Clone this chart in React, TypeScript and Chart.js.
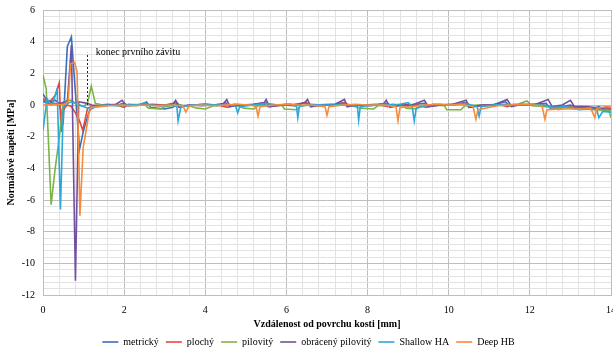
import { useEffect, useRef } from 'react';
import Chart from 'chart.js/auto';

const seriesNames = ['metrický', 'plochý', 'pilovitý', 'obrácený pilovitý', 'Shallow HA', 'Deep HB'];
const seriesColors = ['#3A6FBA', '#E5473D', '#7BB446', '#7350A0', '#2AA9D9', '#F58B3B'];

const metricky: [number, number][] = [
  [0, 0.25], [0.1, 0.1], [0.2, 0.15], [0.3, 0.1], [0.4, 0.05], [0.5, -1.0], [0.6, 3.7], [0.7, 4.3], [0.9, -2.8], [1.0, -1.6], [1.15, -0.3],
  [1.3, -0.1], [1.5, -0.05], [1.7, 0.0], [1.9, 0.05], [2.0, 0.1], [2.1, -0.05], [2.3, 0.0], [2.5, 0.1], [2.55, 0.2], [2.65, -0.15], [2.8, -0.2], [3.0, -0.25], [3.2, -0.15], [3.3, 0.05], [3.45, -0.05], [3.7, 0.0], [4.0, 0.05], [4.3, -0.05], [4.5, 0.15], [4.6, -0.1], [4.8, 0.0], [5.1, 0.0], [5.4, 0.1], [5.55, -0.1], [5.8, 0.0], [6.0, 0.05], [6.3, 0.0], [6.45, 0.15], [6.6, -0.05], [6.9, 0.0], [7.2, 0.05], [7.4, 0.15], [7.5, -0.1], [7.7, 0.0], [8.0, -0.05], [8.3, 0.05], [8.5, 0.1], [8.6, -0.1], [8.9, 0.0], [9.2, 0.05], [9.4, 0.1], [9.5, -0.1], [9.8, 0.0], [10.1, 0.05], [10.4, 0.15], [10.5, -0.15], [10.8, -0.05], [11.1, 0.0], [11.4, 0.2], [11.5, -0.05], [11.8, 0.0], [12.1, 0.05], [12.4, 0.1], [12.5, -0.2], [12.8, -0.1], [13.0, 0.0], [13.2, -0.2], [13.5, -0.25], [13.7, -0.1], [13.9, -0.35], [14, -0.3],
];

const plochy: [number, number][] = [
  [0, 0.4], [0.1, 0.2], [0.2, 0.3], [0.3, 0.6], [0.4, 1.4], [0.45, -1.7], [0.5, -0.3], [0.6, 0.0], [0.7, -0.1], [0.8, -0.5], [0.9, -1.0], [0.98, -1.6], [1.1, -0.2],
  [1.2, -0.1], [1.4, 0.0], [1.6, 0.05], [1.8, 0.0], [2.0, -0.15], [2.1, 0.05], [2.4, 0.0], [2.7, 0.05], [3.0, 0.0], [3.3, 0.15], [3.4, -0.1], [3.7, 0.0], [4.0, 0.05], [4.3, 0.0], [4.55, -0.15], [4.7, 0.05], [5.0, 0.0], [5.3, 0.05], [5.5, 0.15], [5.6, -0.1], [5.9, 0.0], [6.2, 0.05], [6.5, 0.15], [6.6, -0.1], [6.9, 0.0], [7.2, 0.0], [7.45, 0.15], [7.55, -0.05], [7.9, 0.0], [8.2, 0.05], [8.5, -0.1], [8.6, 0.05], [8.9, 0.0], [9.2, 0.0], [9.45, -0.15], [9.6, 0.05], [9.9, 0.0], [10.2, 0.05], [10.45, 0.15], [10.55, -0.1], [10.9, 0.0], [11.2, 0.05], [11.45, -0.1], [11.6, 0.05], [11.9, 0.0], [12.2, 0.05], [12.5, -0.1], [12.7, -0.3], [12.9, -0.1], [13.2, -0.15], [13.5, -0.2], [13.8, -0.3], [14, -0.2],
];

const pilovity: [number, number][] = [
  [0, 1.9], [0.08, 1.0], [0.2, -6.3], [0.3, -4.0], [0.4, -2.1], [0.5, 0.2], [0.6, 0.3], [0.7, 0.3], [0.8, 0.1], [0.9, 0.0], [1.0, -0.1], [1.1, 0.15], [1.19, 1.2], [1.29, 0.1],
  [1.4, 0.05], [1.5, -0.05], [1.7, 0.0], [1.9, -0.05], [2.1, 0.0], [2.3, -0.05], [2.5, 0.05], [2.6, -0.2], [2.9, -0.25], [3.0, -0.1], [3.3, 0.0], [3.6, -0.05], [3.8, -0.2], [4.0, -0.25], [4.2, -0.05], [4.5, 0.0], [4.8, -0.05], [4.95, -0.2], [5.2, -0.25], [5.3, -0.05], [5.6, 0.0], [5.9, -0.05], [5.95, -0.25], [6.25, -0.3], [6.35, -0.05], [6.7, 0.0], [7.0, 0.05], [7.3, 0.0], [7.6, -0.05], [7.85, -0.2], [8.15, -0.25], [8.25, -0.05], [8.6, 0.0], [8.9, -0.05], [8.95, -0.2], [9.2, -0.25], [9.3, -0.05], [9.6, 0.0], [9.9, -0.05], [9.95, -0.3], [10.3, -0.3], [10.4, -0.05], [10.7, 0.0], [11.0, -0.05], [11.3, 0.0], [11.6, -0.05], [11.93, 0.25], [12.05, -0.05], [12.4, -0.1], [12.7, -0.2], [13.0, -0.15], [13.3, -0.25], [13.6, -0.3], [13.95, -0.35], [14, -0.8],
];

const obracenyPilovity: [number, number][] = [
  [0, 0.7], [0.1, 0.25], [0.2, 0.2], [0.3, 0.3], [0.4, 0.1], [0.5, 0.15], [0.6, 0.2], [0.7, 3.8], [0.8, -11.1], [0.88, 0.2], [1.0, 0.15], [1.1, 0.1],
  [1.2, 0.0], [1.4, -0.05], [1.6, 0.0], [1.8, 0.05], [1.95, 0.3], [2.05, -0.05], [2.3, 0.0], [2.6, 0.0], [2.9, -0.05], [3.2, 0.05], [3.27, 0.3], [3.35, -0.15], [3.6, 0.0], [3.9, -0.05], [4.2, 0.0], [4.45, 0.1], [4.53, 0.35], [4.6, -0.1], [4.9, 0.0], [5.2, 0.05], [5.45, 0.15], [5.5, 0.35], [5.58, -0.1], [5.9, 0.0], [6.2, -0.05], [6.45, 0.15], [6.52, 0.35], [6.6, -0.1], [6.9, 0.0], [7.2, 0.05], [7.43, 0.35], [7.5, -0.1], [7.8, 0.0], [8.1, -0.05], [8.4, 0.1], [8.46, 0.3], [8.55, -0.15], [8.8, 0.0], [9.1, 0.0], [9.4, 0.3], [9.5, -0.1], [9.8, 0.0], [10.1, 0.05], [10.43, 0.3], [10.5, -0.15], [10.8, 0.0], [11.1, 0.0], [11.44, 0.35], [11.55, -0.1], [11.8, 0.05], [12.1, 0.0], [12.45, 0.35], [12.55, -0.1], [12.8, 0.0], [13.0, 0.3], [13.1, -0.1], [13.4, -0.1], [13.7, -0.2], [14, -0.15],
];

const shallowHA: [number, number][] = [
  [0, -1.6], [0.1, 0.4], [0.2, 0.0], [0.25, 0.2], [0.35, 1.0], [0.43, -6.6], [0.5, -0.2], [0.6, 0.1], [0.7, 0.2], [0.8, 0.1], [0.9, 0.0], [1.0, -0.1],
  [1.1, -0.2], [1.3, -0.1], [1.5, 0.0], [1.8, -0.05], [2.1, 0.0], [2.4, 0.05], [2.5, 0.15], [2.6, 0.0], [2.9, -0.05], [3.2, 0.0], [3.3, -0.1], [3.33, -1.0], [3.4, -0.1], [3.7, 0.0], [4.0, 0.05], [4.3, 0.0], [4.6, 0.05], [4.75, -0.1], [4.8, -0.5], [4.85, -0.1], [5.2, 0.0], [5.5, 0.1], [5.8, 0.0], [6.1, 0.05], [6.25, -0.1], [6.28, -0.8], [6.32, -0.1], [6.6, 0.05], [6.9, 0.0], [7.2, 0.0], [7.5, 0.05], [7.75, -0.1], [7.78, -0.95], [7.82, -0.1], [8.1, 0.0], [8.4, 0.05], [8.7, 0.0], [9.0, 0.15], [9.1, -0.1], [9.15, -1.0], [9.2, -0.2], [9.5, 0.0], [9.8, 0.05], [10.1, 0.0], [10.4, 0.1], [10.7, -0.1], [10.75, -0.7], [10.8, -0.1], [11.1, 0.0], [11.4, 0.05], [11.7, 0.0], [12.0, 0.05], [12.3, 0.0], [12.6, -0.15], [12.9, -0.1], [13.2, -0.3], [13.5, -0.25], [13.65, -0.3], [13.7, -0.8], [13.8, -0.4], [14, -0.45],
];

const deepHB: [number, number][] = [
  [0, 0.0], [0.3, 0.05], [0.5, 0.0], [0.62, 0.2], [0.68, 2.6], [0.78, 2.7], [0.84, 2.1], [0.91, -7.0], [0.99, -2.7], [1.14, -0.45],
  [1.2, -0.15], [1.4, -0.1], [1.6, -0.05], [1.9, 0.0], [2.2, -0.05], [2.5, 0.0], [2.8, -0.05], [3.1, 0.0], [3.45, -0.05], [3.52, -0.45], [3.6, -0.05], [3.9, 0.0], [4.2, -0.05], [4.5, 0.0], [4.8, 0.05], [5.1, 0.0], [5.25, -0.1], [5.3, -0.7], [5.35, -0.1], [5.7, 0.0], [6.0, 0.05], [6.3, 0.0], [6.6, 0.0], [6.95, -0.1], [7.0, -0.65], [7.05, -0.1], [7.4, 0.0], [7.7, 0.05], [8.0, 0.0], [8.4, 0.0], [8.7, -0.1], [8.75, -1.0], [8.8, -0.15], [9.1, -0.1], [9.4, 0.0], [9.7, 0.05], [10.0, 0.0], [10.3, 0.05], [10.6, -0.1], [10.67, -0.9], [10.72, -0.3], [10.9, -0.2], [11.2, -0.05], [11.5, 0.0], [11.8, 0.05], [12.1, 0.0], [12.3, -0.05], [12.37, -0.9], [12.42, -0.3], [12.8, -0.25], [13.2, -0.25], [13.5, -0.2], [13.6, -0.8], [13.65, -0.2], [13.9, -0.1], [14, -0.15],
];

const seriesData = [metricky, plochy, pilovity, obracenyPilovity, shallowHA, deepHB];

const xMin = 0;
const xMax = 14;
const yMin = -12;
const yMax = 6;
const minorStep = 0.4;
const majorStep = 2;

const xTitle = 'Vzdálenost od povrchu kosti [mm]';
const yTitle = 'Normálové napětí [MPa]';
const markerX = 1.08;
const markerTop = 3.3;
const markerLabel = 'konec prvního závitu';
const markerLabelX = 1.3;
const markerLabelY = 3.35;

const FONT = '"Liberation Serif", "Times New Roman", serif';

const isMajor = (v: number) => Math.abs(v / majorStep - Math.round(v / majorStep)) < 1e-6;

const buildTicks = (min: number, max: number) => {
  const n = Math.round((max - min) / minorStep);
  const t = [];
  for (let i = 0; i <= n; i++) t.push({ value: Math.round((min + i * minorStep) * 10) / 10 });
  return t;
};

const gridColor = (ctx: any) => (ctx.tick && isMajor(ctx.tick.value) ? '#BDBDBD' : '#E3E3E3');

const markerPlugin = {
  id: 'markerPlugin',
  afterDatasetsDraw(chart: any) {
    const { ctx, scales } = chart;
    const x = scales.x;
    const y = scales.y;
    const px = Math.round(x.getPixelForValue(markerX)) + 0.5;
    const y0 = y.getPixelForValue(0);
    const y1 = y.getPixelForValue(markerTop);
    ctx.save();
    ctx.strokeStyle = '#222';
    ctx.lineWidth = 1;
    ctx.setLineDash([2, 2]);
    ctx.beginPath();
    ctx.moveTo(px, y0);
    ctx.lineTo(px, y1);
    ctx.stroke();
    ctx.setLineDash([]);
    ctx.fillStyle = '#000';
    ctx.font = `10px ${FONT}`;
    ctx.textBaseline = 'middle';
    ctx.textAlign = 'left';
    ctx.fillText(markerLabel, x.getPixelForValue(markerLabelX), y.getPixelForValue(markerLabelY));
    ctx.restore();
  },
};

export default function App() {
  const ref = useRef<HTMLCanvasElement>(null);
  useEffect(() => {
    if (!ref.current) return;
    const chart = new Chart(ref.current, {
      type: 'line',
      data: {
        datasets: seriesData.map((s, i) => ({
          label: seriesNames[i],
          data: s.map(([x, y]) => ({ x, y })),
          borderColor: seriesColors[i],
          backgroundColor: seriesColors[i],
          borderWidth: 1.6,
          pointRadius: 0,
          pointHoverRadius: 0,
          tension: 0,
          fill: false,
          order: seriesData.length - 1 - i,
        })),
      },
      options: {
        animation: false,
        responsive: false,
        maintainAspectRatio: false,
        layout: { padding: { top: 0, left: 0, right: 0, bottom: 0 } },
        plugins: {
          legend: {
            position: 'bottom',
            labels: {
              usePointStyle: true,
              pointStyle: 'line',
              pointStyleWidth: 16,
              padding: 7,
              color: '#000',
              font: { family: FONT, size: 10 },
              sort: (a: any, b: any) => a.datasetIndex - b.datasetIndex,
            },
          },
          tooltip: { enabled: false },
        },
        scales: {
          x: {
            type: 'linear',
            min: xMin,
            max: xMax,
            afterBuildTicks: (scale: any) => {
              scale.ticks = buildTicks(xMin, xMax);
            },
            afterFit: (scale: any) => {
              scale.height = 35;
              scale.paddingLeft = 0;
              scale.paddingRight = 6;
            },
            ticks: {
              autoSkip: false,
              maxRotation: 0,
              padding: 9,
              color: '#000',
              font: { family: FONT, size: 10 },
              callback: (v: any) => (isMajor(Number(v)) ? String(Math.round(Number(v))) : ''),
            },
            grid: { color: gridColor, drawTicks: false },
            border: { color: '#BDBDBD' },
            title: {
              display: true,
              text: xTitle,
              color: '#000',
              font: { family: FONT, size: 10, weight: 'bold' },
              padding: { top: 2, bottom: 0 },
            },
          },
          y: {
            type: 'linear',
            min: yMin,
            max: yMax,
            afterBuildTicks: (scale: any) => {
              scale.ticks = buildTicks(yMin, yMax);
            },
            afterFit: (scale: any) => {
              scale.width = 43;
              scale.paddingTop = 10;
              scale.paddingBottom = 0;
            },
            ticks: {
              autoSkip: false,
              padding: 8,
              color: '#000',
              font: { family: FONT, size: 10 },
              callback: (v: any) => (isMajor(Number(v)) ? String(Math.round(Number(v))) : ''),
            },
            grid: { color: gridColor, drawTicks: false },
            border: { color: '#BDBDBD' },
            title: {
              display: true,
              text: yTitle,
              color: '#000',
              font: { family: FONT, size: 10, weight: 'bold' },
              padding: { top: 5, bottom: 5 },
            },
          },
        },
      },
      plugins: [markerPlugin],
    } as any);
    return () => chart.destroy();
  }, []);
  return (
    <div style={{ position: 'absolute', left: 0, top: 0, width: 613, height: 350, overflow: 'hidden', background: '#fff' }}>
      <canvas ref={ref} width={617} height={357} style={{ display: 'block', width: 617, height: 357 }} />
    </div>
  );
}
